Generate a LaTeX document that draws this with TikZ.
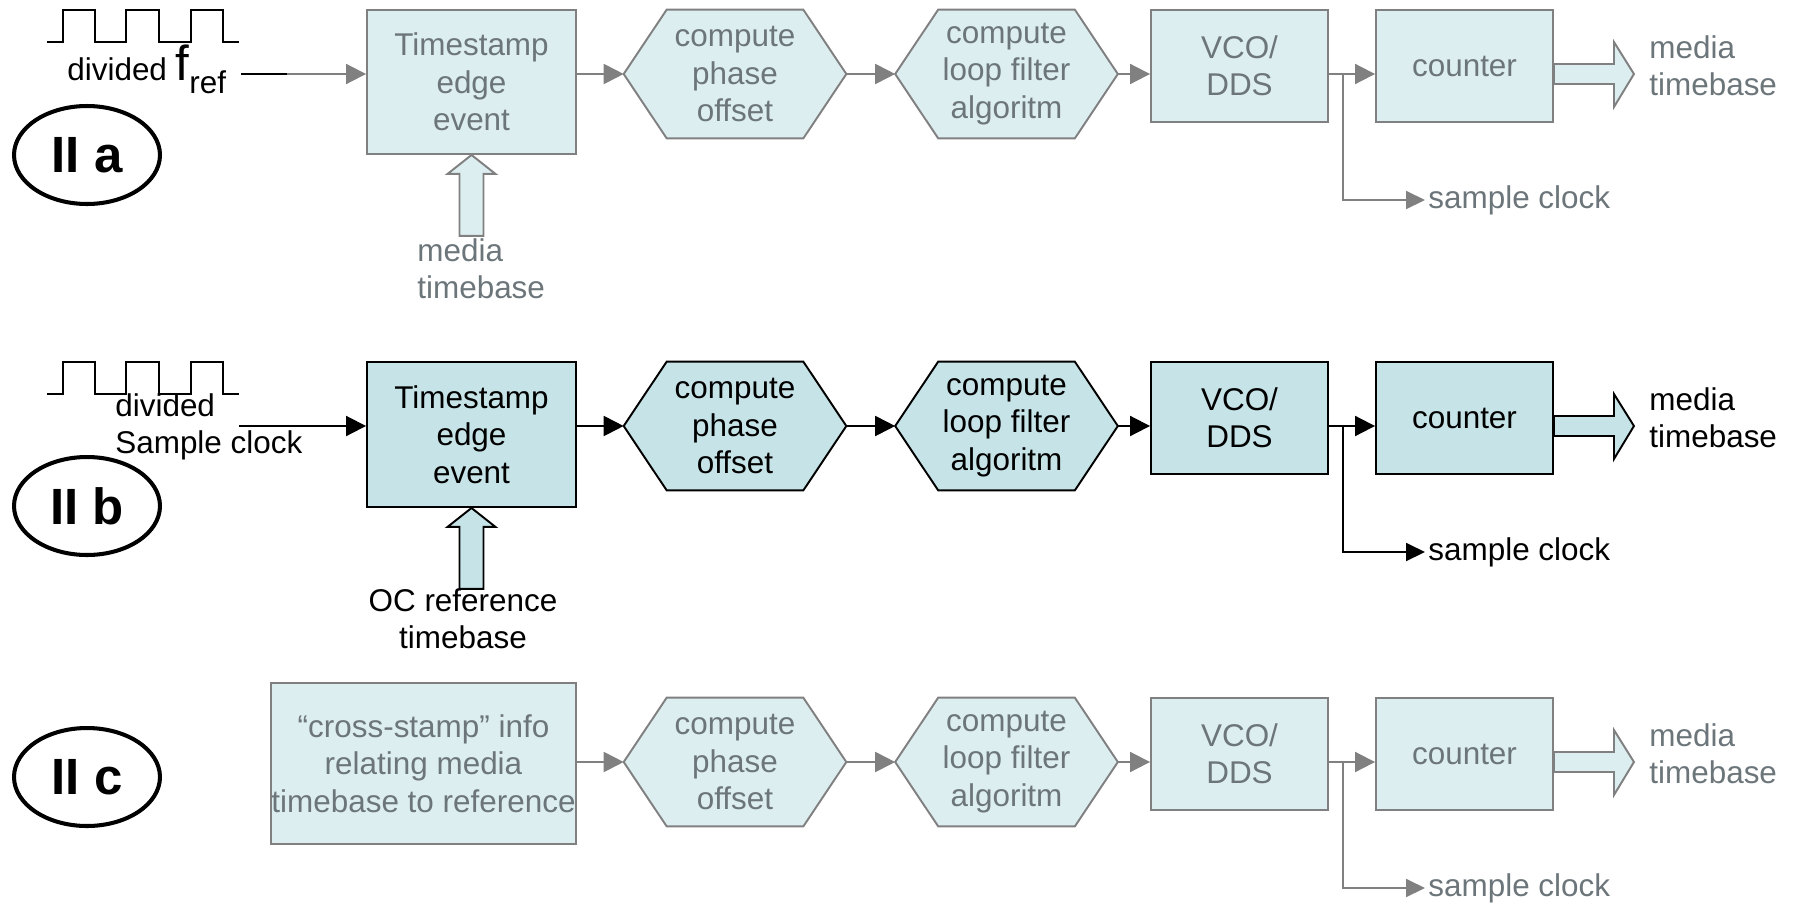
\documentclass[tikz,border=0pt]{standalone}
\usepackage{fontspec}
\setmainfont{Liberation Sans}
\usetikzlibrary{shapes.geometric,arrows.meta,backgrounds}

\definecolor{linegray}{RGB}{128,128,128}
\definecolor{textgray}{RGB}{108,118,122}
\definecolor{palefill}{RGB}{221,238,240}
\definecolor{tealfill}{RGB}{198,228,232}

\newcommand{\blocktext}{\fontsize{17.9}{21.3}\selectfont}

\tikzset{
  faded/.style={draw=linegray, fill=palefill, text=textgray},
  strong/.style={draw=black, fill=tealfill, text=black},
  blockbox/.style={rectangle, line width=1.1pt, inner sep=0pt, align=center, font=\blocktext},
  smallbox/.style={blockbox, minimum width=3.54cm, minimum height=2.24cm},
  hexbox/.style={rectangle, minimum width=4.44cm, minimum height=2.56cm,
    inner sep=0pt, align=center, font=\blocktext},
  lbltext/.style={inner sep=0pt, font=\blocktext},
  conn/.style={line width=1.1pt, -{Triangle[length=0.4cm,width=0.4cm]}},
  rowtag/.style={ellipse, draw, line width=2.3pt, minimum width=2.92cm,
    minimum height=1.96cm, inner sep=0pt, font=\fontsize{29}{29}\selectfont\bfseries},
  wave/.style={line width=1.1pt}
}

\begin{document}
\begin{tikzpicture}[x=0.02cm, y=-0.02cm]
    \useasboundingbox (0,0) rectangle (1797,903);

    % square waves
    \foreach \dy in {0,352}
    \draw[wave] (47,42+\dy) -| (63,10+\dy) -| (95,42+\dy) -| (126,10+\dy)
        -| (159,42+\dy) -| (191,10+\dy) -| (223,42+\dy) -- (239,42+\dy);

    % row tags
    \node[rowtag] (tagA) at (87,155) {II a};
    \node[rowtag] (tagB) at (87,506) {II b};
    \node[rowtag] (tagC) at (87,777) {II c};

    % first blocks
    \node[blockbox, faded, minimum width=4.18cm, minimum height=2.88cm] (inA) at (471.5,82) {Timestamp\\edge\\event};
    \node[blockbox, strong, minimum width=4.18cm, minimum height=2.9cm] (inB) at (471.5,434.5) {Timestamp\\edge\\event};
    \node[blockbox, faded, minimum width=6.1cm, minimum height=3.22cm] (inC) at (423.5,763.5) {“cross-stamp” info\\relating media\\timebase to reference};

    % inputs
    \node[lbltext, anchor=base west] (divA) at (67,80) {divided {\fontsize{28}{28}\selectfont f}\raisebox{-0.26cm}{ref}};
    \coordinate (srcA) at (241,74);
    \coordinate (fadeA) at (287,74);
    \draw[line width=1.1pt] (srcA) -- (fadeA);
    \draw[conn, linegray] (fadeA) -- (inA.west |- fadeA);

    \node[lbltext, anchor=west, align=left] (divB) at (115,427) {divided\\Sample clock};
    \coordinate (srcB) at (239,426);
    \draw[conn, black] (srcB) -- (inB.west |- srcB);

    % hollow arrows into the first blocks
    \draw[faded, line width=1.1pt] (inA.south) -- ++(24,19) -- ++(-12,0) -- ++(0,62)
        -- ++(-24,0) -- ++(0,-62) -- ++(-12,0) -- cycle;
    \node[lbltext, text=textgray, anchor=west, align=left] (mtA) at (417,268.5) {media\\timebase};
    \draw[strong, line width=1.1pt] (inB.south) -- ++(24,19) -- ++(-12,0) -- ++(0,62)
        -- ++(-24,0) -- ++(0,-62) -- ++(-12,0) -- cycle;
    \node[lbltext, align=center] (ocB) at (463,618.5) {OC reference\\timebase};

    % loop blocks of each row
    \foreach \r/\dy/\look/\lc/\tc in {A/0/faded/linegray/textgray, B/352/strong/black/black, C/688/faded/linegray/textgray} {
        \node[hexbox, text=\tc] (ph\r) at (735,74+\dy) {compute\\phase\\offset};
        \node[hexbox, text=\tc] (lf\r) at (1006.5,74+\dy) {compute\\loop filter\\algoritm};
        \node[smallbox, \look] (vco\r) at (1239.5,66+\dy) {VCO/\\DDS};
        \node[smallbox, \look] (cnt\r) at (1464.5,66+\dy) {counter};
        \node[lbltext, text=\tc, anchor=west, align=left] (out\r) at (1649,66+\dy) {media\\timebase};
        \node[lbltext, text=\tc, anchor=west, inner xsep=0.06cm] (sc\r) at (1425,200+\dy) {sample clock};
        \coordinate (br\r) at (1343,74+\dy);

        % hexagon outlines behind the text
        \begin{scope}[on background layer]
            \foreach \h in {ph\r, lf\r}
            \draw[\look, line width=1.1pt] (\h.west) -- ([xshift=0.86cm]\h.north west)
                -- ([xshift=-0.86cm]\h.north east) -- (\h.east)
                -- ([xshift=-0.86cm]\h.south east) -- ([xshift=0.86cm]\h.south west) -- cycle;
        \end{scope}

        \draw[conn, \lc] (in\r.east |- ph\r.west) -- (ph\r.west);
        \draw[conn, \lc] (ph\r.east) -- (lf\r.west);
        \draw[conn, \lc] (lf\r.east) -- (vco\r.west |- lf\r.east);
        \draw[conn, \lc] (vco\r.east |- ph\r.west) -- (cnt\r.west |- ph\r.west);
        \draw[line width=1.1pt, \lc, -{Triangle[length=0.38cm,width=0.36cm]}] (br\r) |- (sc\r.west);
        \draw[\look, line width=1.1pt] (cnt\r.east |- ph\r.west) ++(0,-10) -- ++(60,0) -- ++(0,-22)
            -- ++(20,32) -- ++(-20,33) -- ++(0,-23) -- ++(-60,0) -- cycle;
    }
\end{tikzpicture}
\end{document}
